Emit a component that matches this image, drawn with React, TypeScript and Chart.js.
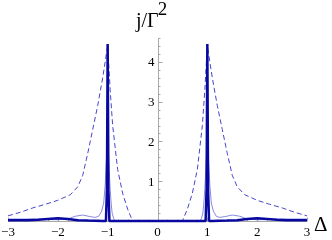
import React, { useEffect, useRef } from 'react';
import { Chart, registerables } from 'chart.js';

Chart.register(...registerables);

const xMin = -3;
const xMax = 3;
const yMin = 0;
const yMax = 4.6;

const xTickValues = [-3, -2, -1, 0, 1, 2, 3];
const xTickLabels = ['\u22123', '\u22122', '\u22121', '0', '1', '2', '3'];
const yTickValues = [1, 2, 3, 4];
const yTickLabels = ['1', '2', '3', '4'];
const minorStep = 0.2;

const yAxisTitle = 'j/\u0393';
const yAxisTitleSup = '2';
const xAxisTitle = '\u0394';

const dashedX = [-3, -2.75, -2.5, -2.25, -2, -1.75, -1.6, -1.5, -1.4, -1.3, -1.2, -1.1, -1.05, -1, -0.95, -0.9, -0.8, -0.7, -0.6, -0.5, 0, 0.5, 0.6, 0.7, 0.8, 0.9, 0.95, 1, 1.05, 1.1, 1.2, 1.3, 1.4, 1.5, 1.6, 1.75, 2, 2.25, 2.5, 2.75, 3];
const dashedY = [0.13, 0.22, 0.33, 0.42, 0.52, 0.66, 0.86, 1.15, 1.7, 2.3, 2.9, 3.6, 4.0, 4.42, 3.3, 2.4, 1.3, 0.7, 0.3, 0, 0, 0, 0.3, 0.7, 1.3, 2.4, 3.3, 4.42, 4.0, 3.6, 2.9, 2.3, 1.7, 1.15, 0.86, 0.66, 0.52, 0.42, 0.33, 0.22, 0.13];

const thinX = [-3, -2.75, -2.5, -2.25, -2, -1.8, -1.65, -1.5, -1.35, -1.25, -1.18, -1.12, -1.08, -1.05, -1.03, -1, -0.97, -0.95, -0.93, -0.91, -0.88, -0.85, 0, 0.85, 0.88, 0.91, 0.93, 0.95, 0.97, 1, 1.03, 1.05, 1.08, 1.12, 1.18, 1.25, 1.35, 1.5, 1.65, 1.8, 2, 2.25, 2.5, 2.75, 3];
const thinY = [0.05, 0.05, 0.05, 0.04, 0.03, 0.05, 0.12, 0.15, 0.11, 0.09, 0.12, 0.25, 0.45, 0.9, 1.4, 2.2, 1.3, 0.8, 0.45, 0.2, 0.06, 0, 0, 0, 0.06, 0.2, 0.45, 0.8, 1.3, 2.2, 1.4, 0.9, 0.45, 0.25, 0.12, 0.09, 0.11, 0.15, 0.12, 0.05, 0.03, 0.04, 0.05, 0.05, 0.05];

const thickX = [-3, -2.6, -2.4, -2.2, -2, -1.8, -1.6, -1.4, -1.1, -1.035, -1.015, -1, -0.985, -0.965, -0.9, 0, 0.9, 0.965, 0.985, 1, 1.015, 1.035, 1.1, 1.4, 1.6, 1.8, 2, 2.2, 2.4, 2.6, 3];
const thickY = [0.02, 0.02, 0.03, 0.05, 0.07, 0.05, 0.02, 0.01, 0, 0, 0.8, 4.45, 0.8, 0, 0, 0, 0, 0, 0.8, 4.45, 0.8, 0, 0, 0.01, 0.02, 0.05, 0.07, 0.05, 0.03, 0.02, 0.02];

const toPoints = (xs: number[], ys: number[]) => xs.map((x, i) => ({ x, y: ys[i] }));

const FONT = '"Liberation Serif"';

const axesPlugin = {
  id: 'customAxes',
  beforeDatasetsDraw(chart: any) {
    const { ctx, scales } = chart;
    const xs = scales.x;
    const ys = scales.y;
    const x0 = Math.round(xs.getPixelForValue(0)) + 0.5;
    const y0 = Math.round(ys.getPixelForValue(0)) + 0.5;
    ctx.save();
    ctx.strokeStyle = '#a8a8a8';
    ctx.lineWidth = 1;
    ctx.beginPath();
    ctx.moveTo(xs.getPixelForValue(xMin), y0);
    ctx.lineTo(xs.getPixelForValue(xMax), y0);
    ctx.moveTo(x0, ys.getPixelForValue(yMin));
    ctx.lineTo(x0, ys.getPixelForValue(yMax));
    const nx = Math.round((xMax - xMin) / minorStep);
    for (let i = 0; i <= nx; i++) {
      const v = xMin + i * minorStep;
      const major = Math.abs(v - Math.round(v)) < 1e-6;
      const px = Math.round(xs.getPixelForValue(v)) + 0.5;
      ctx.moveTo(px, y0);
      ctx.lineTo(px, y0 - (major ? 4 : 2));
    }
    const ny = Math.floor((yMax - yMin) / minorStep + 1e-6);
    for (let j = 1; j <= ny; j++) {
      const v = yMin + j * minorStep;
      const major = Math.abs(v - Math.round(v)) < 1e-6;
      const py = Math.round(ys.getPixelForValue(v)) + 0.5;
      ctx.moveTo(x0, py);
      ctx.lineTo(x0 + (major ? 4 : 2), py);
    }
    ctx.stroke();
    ctx.restore();
  },
  afterDraw(chart: any) {
    const { ctx, scales } = chart;
    const xs = scales.x;
    const ys = scales.y;
    const x0 = xs.getPixelForValue(0);
    const y0 = ys.getPixelForValue(0);
    ctx.save();
    ctx.fillStyle = '#000';
    ctx.font = `13px ${FONT}`;
    ctx.textAlign = 'center';
    ctx.textBaseline = 'top';
    xTickValues.forEach((v, i) => {
      ctx.fillText(xTickLabels[i], xs.getPixelForValue(v), y0 + 5);
    });
    ctx.textAlign = 'right';
    ctx.textBaseline = 'middle';
    yTickValues.forEach((v, i) => {
      ctx.fillText(yTickLabels[i], x0 - 3, ys.getPixelForValue(v) + 1);
    });
    ctx.textAlign = 'left';
    ctx.textBaseline = 'alphabetic';
    ctx.font = `20px ${FONT}`;
    const tx = 136;
    ctx.fillText(yAxisTitle, tx, 27);
    const w = ctx.measureText(yAxisTitle).width;
    ctx.font = `19px ${FONT}`;
    ctx.fillText(yAxisTitleSup, tx + w - 1, 15);
    ctx.font = `21px ${FONT}`;
    ctx.fillText(xAxisTitle, 314, 231);
    ctx.restore();
  },
};

export default function App() {
  const ref = useRef<HTMLCanvasElement>(null);
  useEffect(() => {
    if (!ref.current) return;
    const chart = new Chart(ref.current, {
      type: 'scatter',
      data: {
        datasets: [
          {
            label: 'thick',
            data: toPoints(thickX, thickY),
            showLine: true,
            borderColor: '#0808a0',
            borderWidth: 2.5,
            pointRadius: 0,
            borderJoinStyle: 'bevel',
            clip: false,
          } as any,
          {
            label: 'thin',
            data: toPoints(thinX, thinY),
            showLine: true,
            borderColor: '#8888e0',
            borderWidth: 1,
            pointRadius: 0,
            clip: false,
          } as any,
          {
            label: 'dashed',
            data: toPoints(dashedX, dashedY),
            showLine: true,
            borderColor: '#4646cc',
            borderWidth: 1,
            borderDash: [5, 3],
            pointRadius: 0,
            clip: false,
          } as any,
        ],
      },
      options: {
        responsive: false,
        animation: false,
        layout: { padding: { left: 8, right: 25, top: 38, bottom: 19 } },
        plugins: { legend: { display: false }, tooltip: { enabled: false } },
        scales: {
          x: { type: 'linear', min: xMin, max: xMax, display: false },
          y: { type: 'linear', min: yMin, max: yMax, display: false },
        },
      },
      plugins: [axesPlugin],
    });
    // redraw a few times so that text picks up the serif font once it is available
    const timers = [60, 200, 500, 1000].map((ms) => window.setTimeout(() => chart.draw(), ms));
    return () => {
      timers.forEach((t) => window.clearTimeout(t));
      chart.destroy();
    };
  }, []);
  return (
    <div style={{ position: 'fixed', left: 0, top: 0, width: 332, height: 240, background: '#fff' }}>
      <canvas ref={ref} width={332} height={240} style={{ display: 'block', width: 332, height: 240 }} />
    </div>
  );
}
